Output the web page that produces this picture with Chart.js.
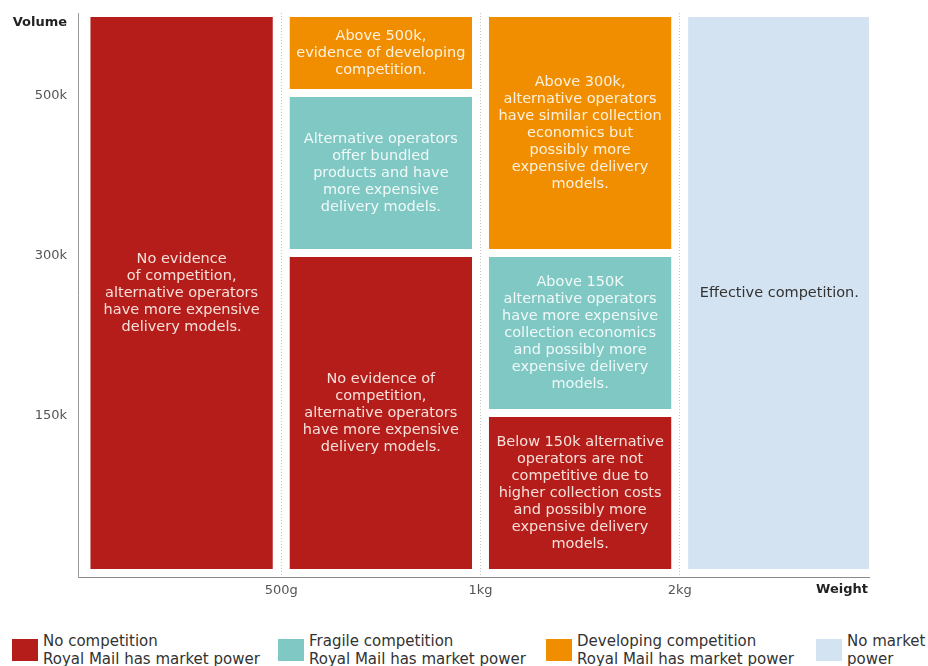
<!DOCTYPE html>
<html>
<head>
<meta charset="utf-8">
<script src="https://cdn.jsdelivr.net/npm/chart.js@4.4.1/dist/chart.umd.min.js"></script>
<style>
  body { margin: 0; background: #fff; font-family: 'DejaVu Sans', sans-serif; }
  #wrap { position: relative; width: 928px; height: 666px; }
  #chart { display: block; }
  #legend { position: absolute; left: 12px; top: 632px; display: grid; grid-template-columns: 266px 268px 270px auto; }
  .item { display: flex; align-items: center; }
  .swatch { width: 26px; height: 22px; margin-right: 5px; flex: none; }
  .item span { font-size: 15px; line-height: 18px; color: #333; white-space: nowrap; }
</style>
</head>
<body>
<div id="wrap">
  <canvas id="chart" width="928" height="612"></canvas>
  <div id="legend"></div>
</div>
<script>
// x scale: 0 = axis, 1 = 500g, 2 = 1kg, 3 = 2kg; bars sit in the middle of each band
const weightBands = [0.5, 1.5, 2.5, 3.5];
const weightTicks = [1, 2, 3];
const weightLabels = ['500g', '1kg', '2kg'];

// y scale is schematic: evenly spaced volume levels
const volumeTicks = [1, 2, 3];
const volumeLabels = ['150k', '300k', '500k'];
const VOL_TOP = 3.5;

// one floating range per weight band (null = no box of this kind)
const noCompetition = [[0, 3.5], [0, 2], [0, 1], null];
const fragile       = [null, [2, 3], [1, 2], null];
const developing    = [null, [3, 3.5], [2, 3.5], null];
const noMarket      = [null, null, null, [0, 3.5]];

const noCompetitionNotes = [
  ['No evidence', 'of competition,', 'alternative operators', 'have more expensive', 'delivery models.'],
  ['No evidence of', 'competition,', 'alternative operators', 'have more expensive', 'delivery models.'],
  ['Below 150k alternative', 'operators are not', 'competitive due to', 'higher collection costs', 'and possibly more', 'expensive delivery', 'models.'],
  null
];
const fragileNotes = [
  null,
  ['Alternative operators', 'offer bundled', 'products and have', 'more expensive', 'delivery models.'],
  ['Above 150K', 'alternative operators', 'have more expensive', 'collection economics', 'and possibly more', 'expensive delivery', 'models.'],
  null
];
const developingNotes = [
  null,
  ['Above 500k,', 'evidence of developing', 'competition.'],
  ['Above 300k,', 'alternative operators', 'have similar collection', 'economics but', 'possibly more', 'expensive delivery', 'models.'],
  null
];
const noMarketNotes = [null, null, null, ['Effective competition.']];

const legendTitles = ['No competition', 'Fragile competition', 'Developing competition', 'No market'];
const legendSubs = ['Royal Mail has market power', 'Royal Mail has market power', 'Royal Mail has market power', 'power'];

const COLORS = ['#b41d1a', '#7fc8c4', '#f18e00', '#d3e3f2'];
const TEXT_COLORS = ['#f7dfd9', '#f0f9f8', '#fdf1de', '#333333'];

function toPoints(ranges, notes) {
  return weightBands
    .map((x, i) => ({ x, y: ranges[i], note: notes[i] }))
    .filter(d => d.y);
}

const series = [
  [noCompetition, noCompetitionNotes],
  [fragile, fragileNotes],
  [developing, developingNotes],
  [noMarket, noMarketNotes]
];

const datasets = series.map(([ranges, notes], i) => ({
  label: legendTitles[i],
  data: toPoints(ranges, notes),
  backgroundColor: COLORS[i],
  borderColor: '#ffffff',
  borderWidth: 4,
  borderSkipped: false,
  grouped: false,
  barPercentage: 0.955,
  categoryPercentage: 1,
  textColor: TEXT_COLORS[i]
}));

// ─── Text inside the boxes ───────────────────────────────────────
const boxText = {
  id: 'boxText',
  afterDatasetsDraw(chart) {
    const { ctx } = chart;
    ctx.save();
    ctx.font = '14.5px "DejaVu Sans"';
    ctx.textAlign = 'center';
    ctx.textBaseline = 'middle';
    const lh = 17;
    chart.data.datasets.forEach((ds, i) => {
      const meta = chart.getDatasetMeta(i);
      ctx.fillStyle = ds.textColor;
      meta.data.forEach((bar, j) => {
        const lines = ds.data[j].note;
        if (!lines) return;
        const cy = (bar.y + bar.base) / 2;
        const y0 = cy - (lines.length - 1) * lh / 2;
        lines.forEach((t, k) => ctx.fillText(t, bar.x, y0 + k * lh));
      });
    });
    ctx.restore();
  }
};

// ─── Axis titles on the tick rows ────────────────────────────────
const axisNames = {
  id: 'axisNames',
  afterDraw(chart) {
    const { ctx, scales: { x, y } } = chart;
    ctx.save();
    ctx.font = 'bold 13px "DejaVu Sans"';
    ctx.fillStyle = '#222';
    ctx.textAlign = 'right';
    ctx.textBaseline = 'middle';
    ctx.fillText('Volume', y.right - 11, 23);
    ctx.fillText('Weight', x.right - 1, 590);
    ctx.restore();
  }
};

new Chart(document.getElementById('chart'), {
  type: 'bar',
  data: { datasets },
  plugins: [boxText, axisNames],
  options: {
    responsive: false,
    animation: false,
    layout: { padding: { top: 13, right: 59, left: 0, bottom: 0 } },
    plugins: { legend: { display: false }, tooltip: { enabled: false } },
    scales: {
      x: {
        type: 'linear',
        offset: false,
        min: -0.02,
        max: 3.95,
        afterBuildTicks: s => { s.ticks = weightTicks.map(v => ({ value: v })); },
        afterFit: s => { s.height = 35; s.paddingLeft = 0; s.paddingRight = 0; },
        grid: { display: true, offset: false, color: '#c4c4c4', drawTicks: false, lineWidth: 1 },
        border: { display: true, color: '#8a8a8a', width: 1, dash: [1, 2] },
        ticks: {
          padding: 6,
          color: '#555',
          font: { family: 'DejaVu Sans', size: 13 },
          callback: v => weightLabels[weightTicks.indexOf(v)]
        }
      },
      y: {
        type: 'linear',
        min: -0.025,
        max: VOL_TOP,
        afterBuildTicks: s => { s.ticks = volumeTicks.map(v => ({ value: v })); },
        afterFit: s => { s.width = 78; s.paddingTop = 0; s.paddingBottom = 0; },
        grid: { display: false, drawTicks: false },
        border: { display: true, color: '#9a9a9a', width: 1 },
        ticks: {
          padding: 11,
          labelOffset: 3,
          color: '#555',
          font: { family: 'DejaVu Sans', size: 13 },
          callback: v => volumeLabels[volumeTicks.indexOf(v)]
        }
      }
    }
  }
});

// ─── HTML legend ─────────────────────────────────────────────────
const legend = document.getElementById('legend');
legendTitles.forEach((t, i) => {
  const item = document.createElement('div');
  item.className = 'item';
  item.innerHTML = `<div class="swatch" style="background:${COLORS[i]}"></div><span>${t}<br>${legendSubs[i]}</span>`;
  legend.appendChild(item);
});
</script>
</body>
</html>
